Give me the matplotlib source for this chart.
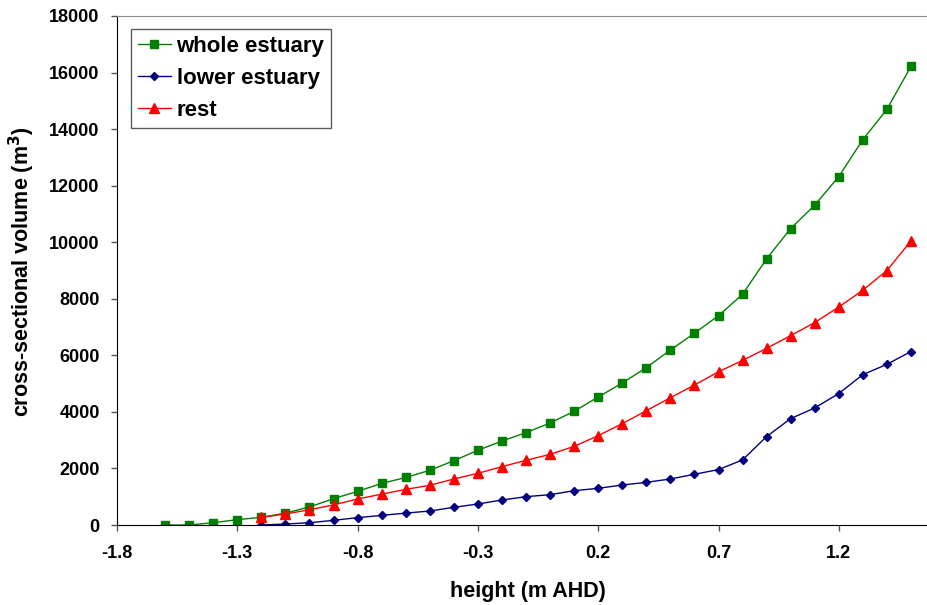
import matplotlib.pyplot as plt

# height (m AHD)
x_whole = [-1.6, -1.5, -1.4, -1.3, -1.2, -1.1, -1.0, -0.9, -0.8, -0.7, -0.6,
           -0.5, -0.4, -0.3, -0.2, -0.1, 0.0, 0.1, 0.2, 0.3, 0.4, 0.5, 0.6,
           0.7, 0.8, 0.9, 1.0, 1.1, 1.2, 1.3, 1.4, 1.5]
x_part = x_whole[4:]

whole_estuary = [0, 0, 80, 190, 270, 420, 640, 930, 1190, 1470, 1680,
                 1934, 2274, 2641, 2970, 3265, 3607, 4020, 4526, 5021, 5563, 6188, 6782,
                 7404, 8158, 9413, 10484, 11312, 12323, 13628, 14700, 16220]
lower_estuary = [0, 35, 80, 165, 260, 340, 420,
                 495, 625, 743, 884, 1002, 1072, 1214, 1297, 1414, 1509, 1627, 1795,
                 1959, 2302, 3129, 3762, 4141, 4650, 5318, 5682, 6135]
rest = [270, 390, 540, 710, 920, 1090, 1260,
        1403, 1627, 1827, 2063, 2287, 2499, 2782, 3159, 3583, 4043, 4502, 4950,
        5417, 5820, 6248, 6697, 7161, 7709, 8306, 9000, 10046]

x_ticks = [-1.8, -1.3, -0.8, -0.3, 0.2, 0.7, 1.2]
y_ticks = list(range(0, 18001, 2000))

plt.rcParams['font.family'] = ['Liberation Sans', 'DejaVu Sans']
plt.rcParams['font.weight'] = 'bold'

W, H = 927, 605
fig = plt.figure(figsize=(W / 100, H / 100), dpi=100)
ax = fig.add_axes([117 / W, (H - 525) / H, (W - 117) / W, (525 - 16) / H])

ax.plot(x_whole, whole_estuary, color='#008000', marker='s', markersize=5.5,
        linewidth=1.0, label='whole estuary')
ax.plot(x_part, lower_estuary, color='#000080', marker='D', markersize=4.5,
        linewidth=1.0, label='lower estuary')
ax.plot(x_part, rest, color='#FF0000', marker='^', markersize=6.5,
        linewidth=1.0, label='rest')

ax.set_xlim(-1.8, -1.8 + (W - 117) / 240.6)
ax.set_ylim(0, 18000)
ax.set_xticks(x_ticks)
ax.set_xticklabels([f'{v:.1f}' for v in x_ticks])
ax.set_yticks(y_ticks)
ax.tick_params(axis='both', direction='out', length=4.5, width=1, color='#555555',
               labelsize=13)
ax.tick_params(axis='x', pad=10)
ax.tick_params(axis='y', pad=8)
for lab in ax.get_xticklabels() + ax.get_yticklabels():
    lab.set_fontweight('bold')

ax.spines['right'].set_visible(False)
ax.spines['top'].set_color('#909090')
ax.spines['left'].set_color('black')
ax.spines['bottom'].set_color('black')

# axis titles placed where they sit in the original
fig.text(528 / W, 1 - 597 / H, 'height (m AHD)', fontsize=15.5,
         fontweight='bold', ha='center', va='baseline')
fig.text(22 / W, 1 - 272 / H, 'cross-sectional volume (m$^\\mathbf{3}$)',
         fontsize=15.5, fontweight='bold', rotation=90, ha='center', va='center')

leg = ax.legend(loc='upper left', bbox_to_anchor=(131 / W, 1 - 29 / H),
                bbox_transform=fig.transFigure, borderaxespad=0,
                frameon=True, fancybox=False, borderpad=0.3,
                handlelength=1.5, handletextpad=0.25, labelspacing=0.5,
                prop={'weight': 'bold', 'size': 16})
leg.get_frame().set_edgecolor('#333333')
leg.get_frame().set_linewidth(1.0)

fig.savefig('out.png', dpi=100)
